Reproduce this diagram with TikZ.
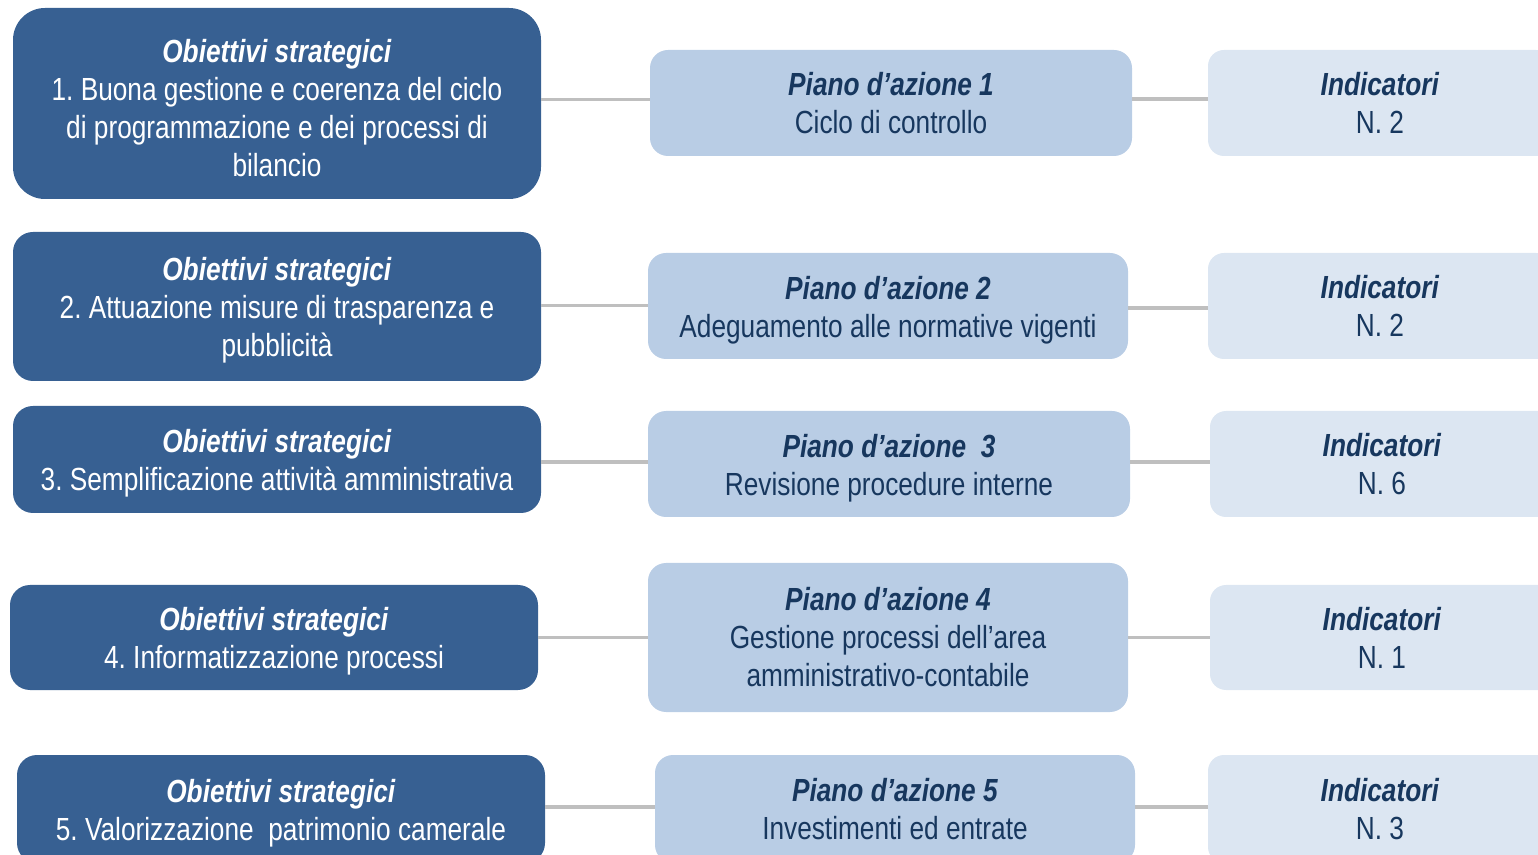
\documentclass[tikz,border=0pt]{standalone}
\usepackage{fontspec}
\setmainfont{Liberation Sans}[FakeStretch=0.82]
\frenchspacing
\definecolor{objblue}{HTML}{376092}
\definecolor{pianoblue}{HTML}{B9CDE5}
\definecolor{indblue}{HTML}{DCE6F2}
\definecolor{navy}{HTML}{17375E}
\definecolor{linegray}{HTML}{BFBFBF}
\begin{document}
\begin{tikzpicture}[x=0.5pt,y=-0.5pt,
  every node/.style={inner sep=0pt, align=center, font=\fontsize{16pt}{19pt}\selectfont},
  objbox/.style={fill=objblue, text=white, rounded corners=10pt},
  pianobox/.style={fill=pianoblue, text=navy, rounded corners=9pt},
  indbox/.style={fill=indblue, text=navy, rounded corners=8pt},
  link/.style={draw=linegray, line width=1.6pt}]
\useasboundingbox (0,0) rectangle (1538,855);
\clip (0,0) rectangle (1538,855);
\newcommand{\ttl}[1]{\textbf{\textit{#1}}}
\newcommand{\ttllow}[1]{\rule{0pt}{15.8pt}\textbf{\textit{#1}}}
% row 1
\node[objbox, rounded corners=16pt, minimum width=264pt, minimum height=95.5pt] (d1) at (277,103.5)
  {\ttllow{Obiettivi strategici}\\1. Buona gestione e coerenza del ciclo\\di programmazione e dei processi di\\bilancio};
\node[pianobox, minimum width=241pt, minimum height=53pt] (p1) at (891,103)
  {\ttl{Piano d’azione 1}\\Ciclo di controllo};
\node[indbox, minimum width=172pt, minimum height=53pt] (i1) at (1380,103)
  {\ttl{Indicatori}\\N. 2};
% row 2
\node[objbox, minimum width=264pt, minimum height=74.5pt] (d2) at (277,306.5)
  {\ttllow{Obiettivi strategici}\\2. Attuazione misure di trasparenza e\\pubblicità};
\node[pianobox, minimum width=240pt, minimum height=53pt] (p2) at (888,306)
  {\ttllow{Piano d’azione 2}\\Adeguamento alle normative vigenti};
\node[indbox, minimum width=172pt, minimum height=53pt] (i2) at (1380,306)
  {\ttl{Indicatori}\\N. 2};
% row 3
\node[objbox, minimum width=264pt, minimum height=53.5pt] (d3) at (277,459.5)
  {\ttllow{Obiettivi strategici}\\3. Semplificazione attività amministrativa};
\node[pianobox, minimum width=241pt, minimum height=53pt] (p3) at (889,464)
  {\ttllow{Piano d’azione\ \ 3}\\Revisione procedure interne};
\node[indbox, minimum width=172pt, minimum height=53pt] (i3) at (1382,464)
  {\ttl{Indicatori}\\N. 6};
% row 4
\node[objbox, minimum width=264pt, minimum height=52.5pt] (d4) at (274,637.5)
  {\ttllow{Obiettivi strategici}\\4. Informatizzazione processi};
\node[pianobox, minimum width=240pt, minimum height=74.5pt] (p4) at (888,637.5)
  {\ttl{Piano d’azione 4}\\Gestione processi dell’area\\amministrativo-contabile};
\node[indbox, minimum width=172pt, minimum height=52.5pt] (i4) at (1382,637.5)
  {\ttl{Indicatori}\\N. 1};
% row 5
\node[objbox, minimum width=264pt, minimum height=54pt] (d5) at (281,809)
  {\ttllow{Obiettivi strategici}\\5. Valorizzazione\ \ patrimonio camerale};
\node[pianobox, minimum width=240pt, minimum height=54pt] (p5) at (895,809)
  {\ttl{Piano d’azione 5}\\Investimenti ed entrate};
\node[indbox, minimum width=172pt, minimum height=54pt] (i5) at (1380,809)
  {\ttl{Indicatori}\\N. 3};
% connectors
\draw[link] ([yshift=2pt]d1.east) -- ([yshift=2pt]d1.east -| p1.west);
\draw[link] ([yshift=2pt]p1.east) -- ([yshift=2pt]p1.east -| i1.west);
\draw[link] ([yshift=0.5pt]d2.east) -- ([yshift=0.5pt]d2.east -| p2.west);
\draw[link] ([yshift=-1pt]p2.east) -- ([yshift=-1pt]p2.east -| i2.west);
\draw[link] ([yshift=1pt]p3.west -| d3.east) -- ([yshift=1pt]p3.west);
\draw[link] ([yshift=1pt]p3.east) -- ([yshift=1pt]p3.east -| i3.west);
\draw[link] (d4.east) -- (d4.east -| p4.west);
\draw[link] (p4.east) -- (p4.east -| i4.west);
\draw[link] ([yshift=1pt]d5.east) -- ([yshift=1pt]d5.east -| p5.west);
\draw[link] ([yshift=1pt]p5.east) -- ([yshift=1pt]p5.east -| i5.west);
\end{tikzpicture}
\end{document}
